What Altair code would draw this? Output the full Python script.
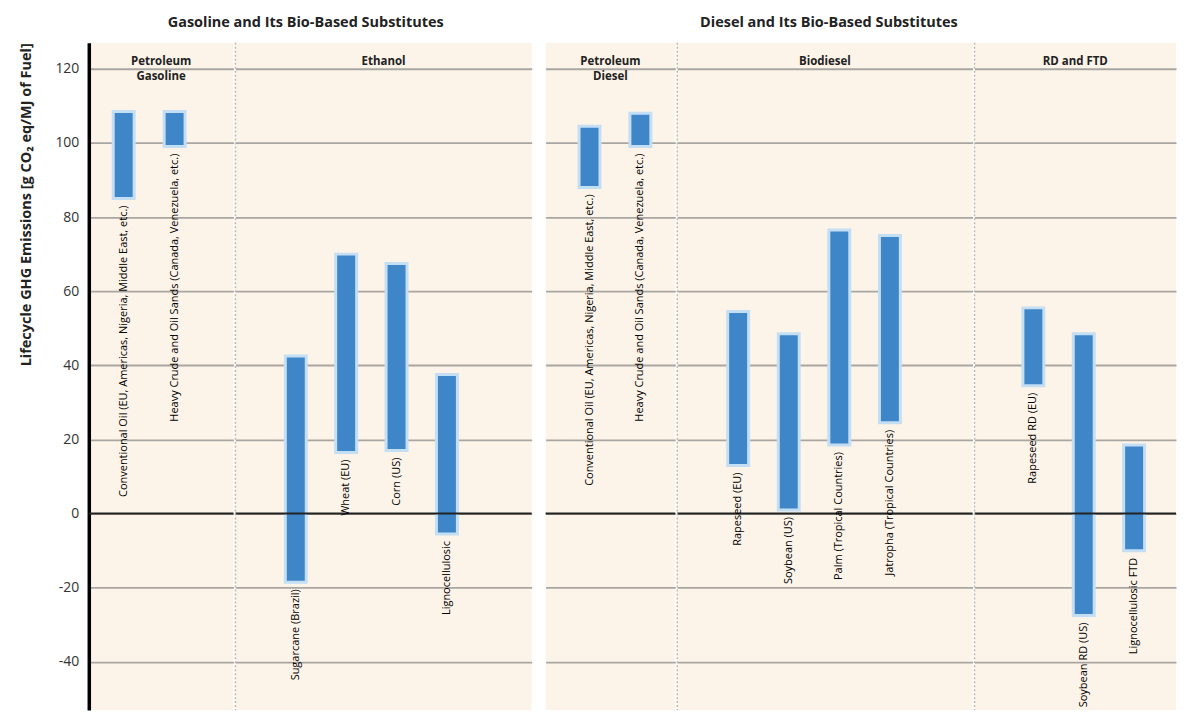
import altair as alt
import pandas as pd

# ---------------- data ----------------
groups = ["Petroleum Gasoline", "Petroleum Gasoline",
          "Ethanol", "Ethanol", "Ethanol", "Ethanol",
          "Petroleum Diesel", "Petroleum Diesel",
          "Biodiesel", "Biodiesel", "Biodiesel", "Biodiesel",
          "RD and FTD", "RD and FTD", "RD and FTD"]
labels = ["Conventional Oil (EU, Americas, Nigeria, Middle East, etc.)",
          "Heavy Crude and Oil Sands (Canada, Venezuela, etc.)",
          "Sugarcane (Brazil)", "Wheat (EU)", "Corn (US)", "Lignocellulosic",
          "Conventional Oil (EU, Americas, Nigeria, Middle East, etc.)",
          "Heavy Crude and Oil Sands (Canada, Venezuela, etc.)",
          "Rapeseed (EU)", "Soybean (US)", "Palm (Tropical Countries)",
          "Jatropha (Tropical Countries)",
          "Rapeseed RD (EU)", "Soybean RD (US)", "Lignocellulosic FTD"]
low = [85, 99, -18.5, 16.5, 17, -5.5, 88, 99, 13, 1, 18.5, 24.5, 34.5, -27.5, -10]
high = [108.5, 108.5, 42.5, 70, 67.5, 37.5, 104.5, 108, 54.5, 48.5, 76.5, 75, 55.5, 48.5, 18.5]

group_titles = {"Petroleum Gasoline": ["Petroleum", "Gasoline"],
                "Ethanol": ["Ethanol"],
                "Petroleum Diesel": ["Petroleum", "Diesel"],
                "Biodiesel": ["Biodiesel"],
                "RD and FTD": ["RD and FTD"]}
y_ticks = [-40, -20, 0, 20, 40, 60, 80, 100, 120]
zero = [0]

df = pd.DataFrame({"group": groups, "label": labels, "low": low, "high": high})

# ---------------- style ----------------
SANS = "Open Sans, Noto Sans, sans-serif"
H = 669
BAR = "#3F86C8"
HALO = "#C4DEF4"
GRID = "#A9A6A2"
yscale = alt.Scale(domain=[-53, 127], nice=False, zero=False)
Y_TITLE = "Lifecycle GHG Emissions [g CO₂ eq/MJ of Fuel]"


def panel(group, width, po, align, first=False, divider=True):
    d = df[df.group == group]
    order = list(d.label)
    xenc = alt.X("label:N", sort=order,
                 scale=alt.Scale(paddingInner=0.1, paddingOuter=po, align=align),
                 axis=None)
    if first:
        yaxis = alt.Axis(values=y_ticks, grid=True, gridColor=GRID, gridWidth=1.8,
                         domain=True, domainColor="black", domainWidth=3.5,
                         ticks=False, labelPadding=10, labelFont=SANS,
                         labelFontSize=14, labelColor="#333333",
                         labelExpr="replace(datum.label, '\u2212', '-')",
                         title=Y_TITLE,
                         titleFont=SANS, titleFontSize=14.5, titleFontWeight="bold",
                         titleColor="#222222", titleAnchor="end", titlePadding=21)
    else:
        yaxis = alt.Axis(values=y_ticks, grid=True, gridColor=GRID, gridWidth=1.8,
                         domain=False, ticks=False, labels=False, title="")
    base = alt.Chart(d)
    bars = base.mark_bar(color=BAR, stroke=HALO, strokeWidth=3, width=21).encode(
        x=xenc,
        y=alt.Y("low:Q", scale=yscale, axis=yaxis),
        y2="high:Q",
    )
    text = base.mark_text(angle=270, align="right", baseline="middle", dx=-7,
                          font=SANS, fontSize=11, color="#000000").encode(
        x=xenc,
        y=alt.Y("low:Q", scale=yscale, axis=yaxis),
        text="label:N",
    )
    zl = alt.Chart(pd.DataFrame({"z": zero})).mark_rule(color="#222222", strokeWidth=2).encode(
        y=alt.Y("z:Q", scale=yscale, axis=yaxis)
    )
    layers = [bars, zl, text]
    for i, line in enumerate(group_titles[group]):
        ttl = alt.Chart(pd.DataFrame({"t": [line]})).mark_text(
            font=SANS, fontWeight="bold", fontSize=11.5,
            baseline="top", color="#222222").encode(
            x=alt.value(width / 2), y=alt.value(13 + 15 * i), text="t:N")
        layers.append(ttl)
    if divider:
        dv = alt.Chart(pd.DataFrame({"a": [0]})).mark_rule(
            color="#BDB8B0", strokeWidth=1.5, strokeDash=[2, 2]).encode(
            x=alt.value(0), y=alt.value(0), y2=alt.value(H))
        layers.append(dv)
    return alt.layer(*layers).properties(width=width, height=H)


pg = panel("Petroleum Gasoline", 145, 0.47, 0.25, first=True, divider=False)
eth = panel("Ethanol", 297, 0.99, 0.378)
pdz = panel("Petroleum Diesel", 130, 0.325, 0.636, divider=False)
bio = panel("Biodiesel", 296, 0.969, 0.389)
rd = panel("RD and FTD", 202, 0.55, 0.653)

left = alt.hconcat(pg, eth, spacing=0).resolve_scale(x="independent").properties(
    title=alt.TitleParams("Gasoline and Its Bio-Based Substitutes", anchor="middle",
                          font=SANS, fontSize=14.5, fontWeight="bold", color="#222222",
                          offset=12, dx=30))
right = alt.hconcat(pdz, bio, rd, spacing=0).resolve_scale(x="independent").properties(
    title=alt.TitleParams("Diesel and Its Bio-Based Substitutes", anchor="middle",
                          font=SANS, fontSize=14.5, fontWeight="bold", color="#222222",
                          offset=12, dx=-32))

chart = alt.hconcat(left, right, spacing=12).resolve_scale(x="independent").properties(
    padding={"left": 10, "top": 5, "right": 0, "bottom": 0}
).configure_view(fill="#FCF4E9", strokeWidth=0)

chart.save("out.html", embed_options={"renderer": "svg", "actions": False})
